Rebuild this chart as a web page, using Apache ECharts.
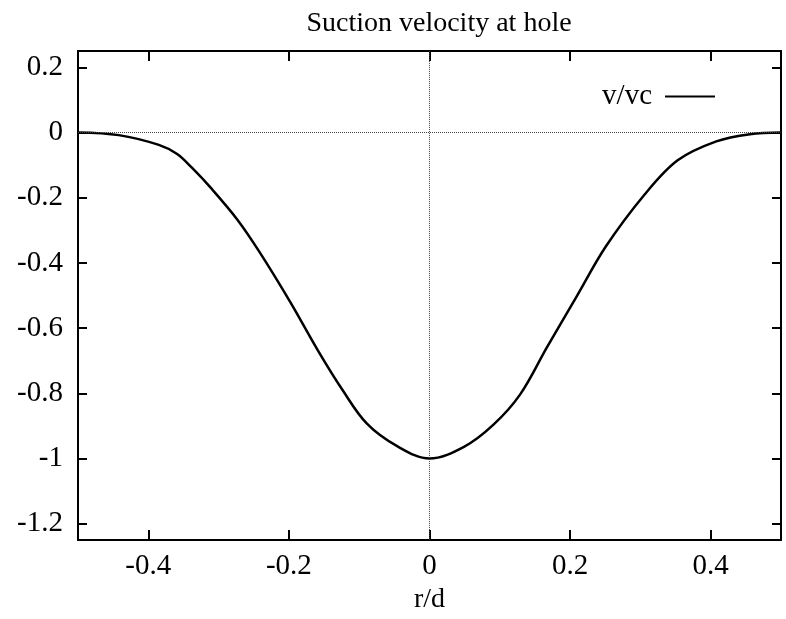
<!DOCTYPE html>
<html><head><meta charset="utf-8">
<script src="https://cdn.jsdelivr.net/npm/echarts@6/dist/echarts.min.js"></script>
<style>html,body{margin:0;padding:0;background:#fff}#c{width:786px;height:619px}</style>
</head><body><div id="c"></div>
<script>
const titleText = 'Suction velocity at hole';
const xName = 'r/d';
const seriesName = 'v/vc';
const rValues = [-0.5, -0.442, -0.385, -0.359, -0.338, -0.311, -0.273, -0.241, -0.198, -0.158, -0.123, -0.089, -0.046, 0,
                 0.049, 0.091, 0.129, 0.167, 0.209, 0.251, 0.306, 0.353, 0.408, 0.456, 0.5];
const vValues = [0, -0.008, -0.038, -0.066, -0.108, -0.170, -0.268, -0.369, -0.520, -0.671, -0.792, -0.893, -0.962, -1.0,
                 -0.964, -0.896, -0.803, -0.659, -0.504, -0.349, -0.190, -0.085, -0.027, -0.005, 0];
const xTicks = [-0.4, -0.2, 0, 0.2, 0.4];
const yTicks = [0.2, 0, -0.2, -0.4, -0.6, -0.8, -1, -1.2];

const FONT = "'Liberation Serif', 'DejaVu Serif', serif";
const data = rValues.map((r, i) => [r, vValues[i]]);
const chart = echarts.init(document.getElementById('c'), null, {renderer: 'canvas'});
const axisLine = {show: true, onZero: false, lineStyle: {color: '#000', width: 2}};
const tickStyle = {color: '#000', width: 2};
chart.setOption({
  animation: false,
  backgroundColor: '#fff',
  title: {
    text: titleText, left: 434, top: 5, textAlign: 'center',
    textStyle: {fontFamily: FONT, fontSize: 28, fontWeight: 'normal', color: '#000'}
  },
  legend: {
    right: 66, top: 77, align: 'right', itemWidth: 50, itemHeight: 2, itemGap: 10,
    icon: 'rect',
    textStyle: {fontFamily: FONT, fontSize: 29, color: '#000', padding: [0, 8, 0, 0]},
    data: [{name: seriesName, itemStyle: {color: '#000'}}]
  },
  grid: {left: 78, right: 5, top: 51, bottom: 78, containLabel: false},
  xAxis: [{
    type: 'value', min: -0.5, max: 0.5, position: 'bottom',
    name: xName, nameLocation: 'middle', nameGap: 42,
    nameTextStyle: {fontFamily: FONT, fontSize: 28, color: '#000'},
    axisLine: axisLine,
    axisTick: {show: true, inside: true, length: 10, lineStyle: tickStyle, customValues: xTicks},
    axisLabel: {show: true, margin: 12, fontFamily: FONT, fontSize: 29, color: '#000', customValues: xTicks,
      formatter: v => String(v)},
    splitLine: {show: false}
  }, {
    type: 'value', min: -0.5, max: 0.5, position: 'top',
    axisLine: axisLine,
    axisTick: {show: true, inside: true, length: 10, lineStyle: tickStyle, customValues: xTicks},
    axisLabel: {show: false},
    splitLine: {show: false}
  }],
  yAxis: [{
    type: 'value', min: -1.25, max: 0.25, position: 'left',
    axisLine: axisLine,
    axisTick: {show: true, inside: true, length: 9, lineStyle: tickStyle, customValues: yTicks},
    axisLabel: {show: true, margin: 15, fontFamily: FONT, fontSize: 29, color: '#000', customValues: yTicks,
      formatter: v => String(v)},
    splitLine: {show: false}
  }, {
    type: 'value', min: -1.25, max: 0.25, position: 'right',
    axisLine: axisLine,
    axisTick: {show: true, inside: true, length: 9, lineStyle: tickStyle, customValues: yTicks},
    axisLabel: {show: false},
    splitLine: {show: false}
  }],
  series: [{
    name: seriesName, type: 'line', data: data, xAxisIndex: 0, yAxisIndex: 0,
    smooth: 0.35, showSymbol: false, symbol: 'none',
    lineStyle: {color: '#000', width: 2.5}, itemStyle: {color: '#000'},
    markLine: {
      silent: true, symbol: 'none', label: {show: false},
      lineStyle: {color: '#444', width: 1, type: 'dotted'},
      data: [{yAxis: 0}, {xAxis: 0}]
    }
  }]
});
</script></body></html>
